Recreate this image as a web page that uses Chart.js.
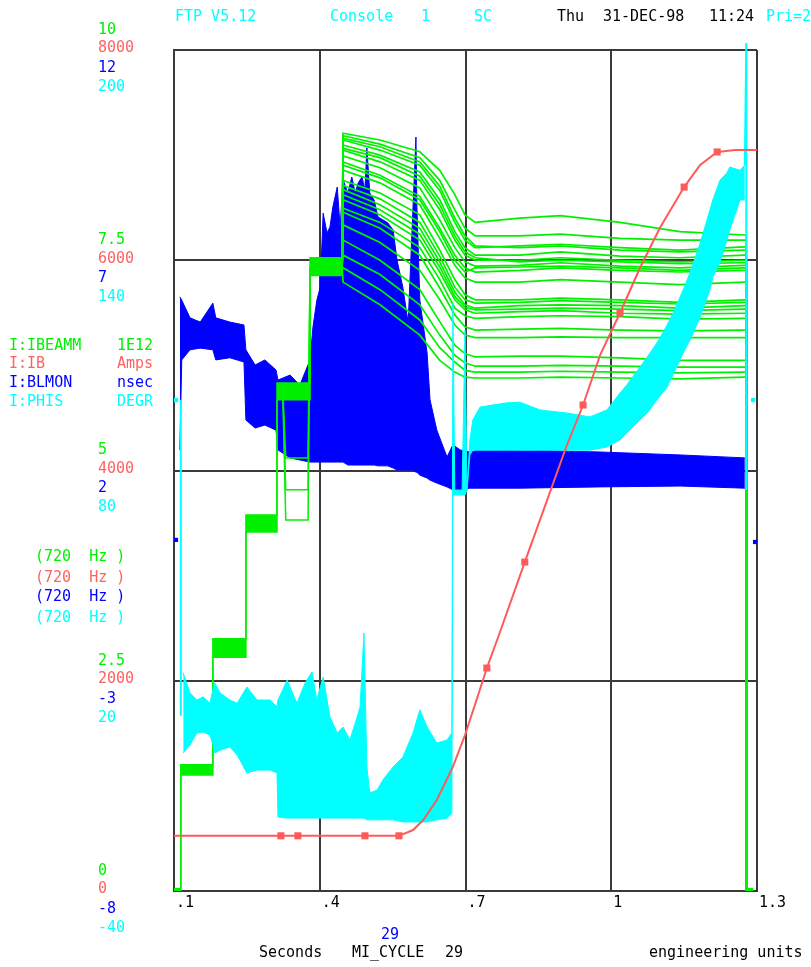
<!DOCTYPE html>
<html>
<head>
<meta charset="utf-8">
<title>MI_CYCLE 29</title>
<script src="https://cdn.jsdelivr.net/npm/chart.js@4.4.1/dist/chart.umd.min.js"></script>
<style>
  html, body { margin: 0; padding: 0; background: #fff; }
  canvas { display: block; }
</style>
</head>
<body>
<canvas id="plot" width="811" height="967"></canvas>
<script>
// time axis (seconds into the cycle)
const xTicks = [0.1, 0.4, 0.7, 1.0, 1.3];
const xTickLabels = ['.1', '.4', '.7', '1', '1.3'];

// the four stacked vertical scales
const greenTicks = [0, 2.5, 5, 7.5, 10];
const redTicks = [0, 2000, 4000, 6000, 8000];
const blueTicks = [-8, -3, 2, 7, 12];
const cyanTicks = [-40, 20, 80, 140, 200];

const seriesNames = ['I:IBEAMM', 'I:IB', 'I:BLMON', 'I:PHIS'];
const seriesUnits = ['1E12', 'Amps', 'nsec', 'DEGR'];

// I:IB - bend current (Amps)
const redTimes = [0.100, 0.320, 0.355, 0.493, 0.563, 0.592, 0.613, 0.641, 0.674, 0.699, 0.724, 0.744, 0.771,
  0.822, 0.868, 0.905, 0.942, 0.977, 1.018, 1.059, 1.100, 1.150, 1.183, 1.218, 1.255, 1.300];
const redAmps = [525, 525, 525, 525, 525, 580, 675, 866, 1180, 1484, 1836, 2121, 2464,
  3129, 3719, 4195, 4623, 5098, 5498, 5926, 6306, 6696, 6906, 7030, 7049, 7049];
const redMarkTimes = [0.320, 0.355, 0.493, 0.563, 0.744, 0.822, 0.942, 1.018, 1.150, 1.218];

// I:IBEAMM - injection steps shared by every cycle (low / high edge of the bundle)
const greenStepTimes = [0.100, 0.114, 0.114, 0.180, 0.180, 0.248, 0.248, 0.312, 0.312, 0.380, 0.380, 0.446];
const greenStepLow = [0, 0, 1.38, 1.38, 2.78, 2.78, 4.27, 4.27, 5.84, 5.84, 7.32, 7.32];
const greenStepHigh = [0, 0, 1.50, 1.50, 3.00, 3.00, 4.47, 4.47, 6.04, 6.04, 7.53, 7.53];
const greenLaunch = 7.42;

// cycles that lost beam during the fourth batch
const greenDipTimes = [0.312, 0.324, 0.330, 0.376, 0.380];
const greenDips = [
  [5.93, 5.93, 5.15, 5.15, 7.42],
  [5.93, 5.93, 4.77, 4.77, 7.42],
  [5.93, 5.93, 4.41, 4.41, 7.42]
];

// individual cycles after the last injection
const greenTraceTimes = [0.448, 0.524, 0.606, 0.647, 0.678, 0.699, 0.720, 0.812, 0.895, 1.018, 1.141, 1.275];
const greenTraces = [
  [9.01, 8.93, 8.79, 8.57, 8.28, 8.04, 7.95, 8.00, 8.03, 7.95, 7.84, 7.80],
  [8.98, 8.88, 8.72, 8.45, 8.10, 7.88, 7.79, 7.79, 7.81, 7.76, 7.74, 7.74],
  [8.95, 8.85, 8.67, 8.38, 8.00, 7.79, 7.67, 7.65, 7.67, 7.62, 7.60, 7.62],
  [8.93, 8.81, 8.63, 8.33, 7.95, 7.74, 7.65, 7.67, 7.69, 7.65, 7.62, 7.66],
  [8.87, 8.75, 8.55, 8.22, 7.84, 7.65, 7.56, 7.56, 7.60, 7.55, 7.53, 7.56],
  [8.83, 8.72, 8.50, 8.16, 7.79, 7.60, 7.53, 7.48, 7.50, 7.48, 7.46, 7.47],
  [8.81, 8.67, 8.45, 8.10, 7.74, 7.56, 7.50, 7.50, 7.53, 7.50, 7.48, 7.50],
  [8.74, 8.60, 8.36, 7.98, 7.65, 7.48, 7.43, 7.44, 7.47, 7.43, 7.41, 7.44],
  [8.67, 8.51, 8.26, 7.88, 7.56, 7.41, 7.36, 7.38, 7.41, 7.38, 7.36, 7.38],
  [8.63, 8.48, 8.22, 7.84, 7.50, 7.36, 7.41, 7.42, 7.43, 7.41, 7.38, 7.41],
  [8.57, 8.42, 8.16, 7.76, 7.44, 7.29, 7.24, 7.24, 7.27, 7.24, 7.21, 7.24],
  [8.45, 8.30, 8.04, 7.62, 7.27, 7.09, 7.03, 7.03, 7.05, 7.03, 7.00, 7.03],
  [8.39, 8.23, 7.95, 7.55, 7.18, 7.03, 6.99, 7.00, 7.02, 7.00, 6.98, 7.00],
  [8.34, 8.16, 7.88, 7.48, 7.12, 6.97, 6.93, 6.96, 6.97, 6.96, 6.93, 6.96],
  [8.28, 8.10, 7.81, 7.42, 7.07, 6.94, 6.91, 6.92, 6.93, 6.92, 6.90, 6.92],
  [8.22, 8.04, 7.74, 7.36, 7.03, 6.91, 6.87, 6.89, 6.90, 6.87, 6.86, 6.87],
  [8.12, 7.95, 7.65, 7.27, 6.93, 6.84, 6.81, 6.83, 6.84, 6.83, 6.80, 6.81],
  [8.07, 7.88, 7.56, 7.17, 6.85, 6.71, 6.67, 6.68, 6.69, 6.67, 6.66, 6.67],
  [7.92, 7.71, 7.38, 7.03, 6.73, 6.61, 6.58, 6.58, 6.59, 6.58, 6.58, 6.58],
  [7.74, 7.50, 7.15, 6.77, 6.49, 6.39, 6.35, 6.36, 6.36, 6.34, 6.31, 6.31],
  [7.56, 7.33, 6.97, 6.61, 6.37, 6.28, 6.24, 6.24, 6.25, 6.24, 6.23, 6.23],
  [7.41, 7.15, 6.79, 6.46, 6.29, 6.19, 6.17, 6.17, 6.18, 6.17, 6.16, 6.17],
  [7.24, 6.97, 6.61, 6.31, 6.17, 6.11, 6.10, 6.10, 6.11, 6.10, 6.09, 6.11]
];
const greenEndTime = 1.278;

// I:BLMON - bunch length envelope (nsec)
const blueTimes = [0.112, 0.116, 0.133, 0.154, 0.180, 0.186, 0.215, 0.244, 0.248, 0.267, 0.287, 0.310, 0.314,
  0.339, 0.359, 0.380, 0.386, 0.394, 0.401, 0.407, 0.415, 0.421, 0.427, 0.436, 0.442, 0.448, 0.458, 0.466,
  0.473, 0.479, 0.487, 0.493, 0.497, 0.503, 0.512, 0.520, 0.530, 0.540, 0.551, 0.559, 0.571, 0.582, 0.592,
  0.598, 0.600, 0.606, 0.621, 0.627, 0.641, 0.662, 0.674, 0.689, 0.709, 0.730, 0.812, 0.977, 1.142, 1.275];
const blueHigh = [6.13, 6.05, 5.63, 5.53, 5.98, 5.63, 5.53, 5.46, 4.87, 4.51, 4.63, 4.39, 4.15,
  4.27, 4.03, 4.63, 5.41, 6.05, 6.36, 8.12, 7.65, 7.79, 8.27, 8.74, 7.79, 8.91, 8.60, 8.98,
  8.60, 8.84, 8.98, 8.67, 9.67, 8.60, 8.43, 8.03, 7.96, 7.89, 7.72, 7.01, 6.36, 5.51, 8.27,
  9.93, 8.27, 6.05, 4.79, 3.68, 2.96, 2.32, 2.61, 2.49, 2.44, 2.49, 2.49, 2.44, 2.37, 2.30];
const blueLow = [2.49, 4.63, 4.87, 4.91, 4.87, 4.63, 4.68, 4.58, 3.20, 3.01, 3.08, 2.96, 2.49,
  2.30, 2.25, 2.20, 2.20, 2.20, 2.20, 2.20, 2.20, 2.20, 2.20, 2.20, 2.20, 2.20, 2.13, 2.13,
  2.13, 2.13, 2.13, 2.13, 2.13, 2.13, 2.13, 2.11, 2.11, 2.11, 2.06, 2.01, 2.01, 2.01, 2.01,
  1.96, 1.96, 1.89, 1.82, 1.77, 1.70, 1.61, 1.54, 1.54, 1.58, 1.58, 1.58, 1.61, 1.63, 1.58];
const blueTailTimes = [1.278, 1.278];
const blueTail = [2.30, 0.0];

// I:PHIS - RF phase envelope (degrees)
const cyanTimes = [0.119, 0.133, 0.147, 0.160, 0.174, 0.180, 0.184, 0.195, 0.215, 0.230, 0.250, 0.271, 0.298,
  0.312, 0.314, 0.333, 0.353, 0.370, 0.384, 0.394, 0.407, 0.421, 0.436, 0.448, 0.462, 0.477, 0.483, 0.491,
  0.497, 0.503, 0.518, 0.530, 0.551, 0.571, 0.592, 0.606, 0.621, 0.641, 0.662, 0.672,
  0.674, 0.678, 0.693, 0.699, 0.703, 0.709,
  0.715, 0.730, 0.785, 0.812, 0.853, 0.909, 0.956, 0.991, 1.018, 1.032, 1.059, 1.074, 1.094, 1.115,
  1.127, 1.148, 1.162, 1.183, 1.203, 1.209, 1.224, 1.238, 1.244, 1.265, 1.275];
const cyanHigh = [22.2, 16.5, 14.5, 15.4, 13.6, 17.4, 19.4, 16.5, 14.5, 13.6, 18.2, 14.5, 14.5,
  12.5, 14.5, 20.2, 13.6, 19.4, 22.5, 14.5, 21.1, 9.7, 5.1, 6.8, 3.1, 9.7, 12.5, 33.6,
  -4.6, -12.0, -11.2, -8.3, -4.6, -1.8, 5.1, 11.7, 6.8, 2.2, 3.1, 5.1,
  127.8, 74.4, 74.4, 120.1, 74.4, 88.7,
  94.4, 98.1, 99.3, 99.5, 97.3, 96.4, 95.3, 97.3, 102.1, 104.4, 109.5, 112.4, 116.4, 121.5,
  124.9, 131.5, 136.4, 144.9, 154.3, 157.2, 162.9, 164.9, 166.6, 165.7, 167.2];
const cyanLow = [-0.6, 1.7, 5.1, 5.4, 4.5, 1.7, -0.6, 0.2, 1.1, -1.2, -6.3, -5.5, -5.5,
  -6.3, -18.9, -19.2, -19.2, -19.2, -19.2, -19.2, -19.2, -19.2, -19.2, -19.2, -19.2, -19.2, -19.2, -19.2,
  -19.7, -19.7, -19.7, -19.7, -19.7, -20.3, -20.3, -20.3, -20.3, -19.7, -19.2, -17.7,
  73.0, 73.0, 73.0, 73.0, 74.4, 84.4,
  85.8, 85.8, 85.8, 85.8, 85.8, 85.8, 85.8, 86.7, 88.7, 90.7, 94.4, 96.4, 100.1, 103.8,
  107.3, 113.5, 117.2, 123.8, 131.5, 135.2, 139.5, 145.8, 148.6, 157.2, 157.2];
const cyanLeadTimes = [0.114, 0.114];
const cyanLead = [100.1, 10.0];
const cyanTailTimes = [1.275, 1.278, 1.278];
const cyanTail = [167.2, 202, 74.4];

// end-of-trace markers
const greenMarkTimes = [0.106, 1.286];
const greenMarks = [0, 0];
const cyanMarkTimes = [0.104, 1.292];
const cyanMarks = [100.1, 100.1];
const blueMarkTimes = [0.104, 1.296];
const blueMarks = [0.35, 0.3];

const GREEN = '#00f000';
const RED = '#ff5a5a';
const RED_TEXT = '#ff6262';
const BLUE = '#0000ff';
const CYAN = '#00ffff';
const INK = '#000000';
const GRID = '#3a3a3a';
const FONT = '15px "DejaVu Sans Mono", "Liberation Mono", monospace';

const pts = (ts, vs) => ts.map((t, i) => ({ x: t, y: vs[i] }));

function line(data, color, axis, order, extra) {
  return Object.assign({
    data, borderColor: color, backgroundColor: color, yAxisID: axis,
    borderWidth: 1.5, pointRadius: 0, fill: false, order
  }, extra || {});
}

const datasets = [];

// beam-loss monitor band (drawn underneath)
datasets.push(line(pts(blueTimes, blueLow), BLUE, 'yB', 3, { borderWidth: 1 }));
datasets.push(line(pts(blueTimes, blueHigh), BLUE, 'yB', 3, { borderWidth: 1, fill: '-1' }));
datasets.push(line(pts(blueTailTimes, blueTail), BLUE, 'yB', 3, { borderWidth: 2 }));
datasets.push(line(pts(blueMarkTimes, blueMarks), BLUE, 'yB', 3,
  { showLine: false, pointRadius: 3, pointStyle: 'rect', pointBorderWidth: 0 }));

// intensity bundle
datasets.push(line(pts(greenStepTimes, greenStepLow), GREEN, 'yG', 2));
datasets.push(line(pts(greenStepTimes, greenStepHigh), GREEN, 'yG', 2, { fill: '-1' }));
greenDips.forEach(d => datasets.push(line(pts(greenDipTimes, d), GREEN, 'yG', 2)));
greenTraces.forEach(tr => {
  const data = [{ x: greenStepTimes[greenStepTimes.length - 1], y: greenLaunch }]
    .concat(pts(greenTraceTimes, tr))
    .concat([{ x: greenEndTime, y: tr[tr.length - 1] }, { x: greenEndTime, y: 0 }]);
  datasets.push(line(data, GREEN, 'yG', 2, { borderWidth: 1.7 }));
});
datasets.push(line(pts(greenMarkTimes, greenMarks), GREEN, 'yG', 2,
  { showLine: false, pointRadius: 4.5, pointStyle: 'rect', pointBorderWidth: 0 }));

// phase band
datasets.push(line(pts(cyanTimes, cyanLow), CYAN, 'yC', 1, { borderWidth: 1 }));
datasets.push(line(pts(cyanTimes, cyanHigh), CYAN, 'yC', 1, { borderWidth: 1, fill: '-1' }));
datasets.push(line(pts(cyanLeadTimes, cyanLead), CYAN, 'yC', 1, { borderWidth: 2 }));
datasets.push(line(pts(cyanTailTimes, cyanTail), CYAN, 'yC', 1, { borderWidth: 2, clip: false }));
datasets.push(line(pts(cyanMarkTimes, cyanMarks), CYAN, 'yC', 1,
  { showLine: false, pointRadius: 3, pointStyle: 'rect', pointBorderWidth: 0 }));

// bend current ramp on top
datasets.push(line(pts(redTimes, redAmps), RED, 'yR', 0, {
  borderWidth: 2,
  pointStyle: 'rect',
  pointBorderWidth: 0,
  pointRadius: c => (c.raw && redMarkTimes.includes(c.raw.x)) ? 5 : 0
}));

// all the screen lettering around the plot frame
const screenText = {
  id: 'screenText',
  afterDraw(chart) {
    const c = chart.ctx;
    const put = (s, x, y, col) => { c.fillStyle = col; c.fillText(s, x, y); };
    c.save();
    c.font = FONT;
    c.textAlign = 'left';
    c.textBaseline = 'middle';

    put('FTP V5.12', 175, 17, CYAN);
    put('Console', 330, 17, CYAN);
    put('1', 421, 17, CYAN);
    put('SC', 474, 17, CYAN);
    put('Thu', 557, 17, INK);
    put('31-DEC-98', 603, 17, INK);
    put('11:24', 709, 17, INK);
    put('Pri=2', 766, 17, CYAN);

    const rows = [
      { id: 'yG', ticks: greenTicks, color: GREEN, dy: -20 },
      { id: 'yR', ticks: redTicks, color: RED_TEXT, dy: -1.5 },
      { id: 'yB', ticks: blueTicks, color: BLUE, dy: 18 },
      { id: 'yC', ticks: cyanTicks, color: CYAN, dy: 37 }
    ];
    rows.forEach(r => {
      const sc = chart.scales[r.id];
      r.ticks.forEach(v => put(String(v), 98, sc.getPixelForValue(v) + r.dy, r.color));
    });

    const colors = [GREEN, RED_TEXT, BLUE, CYAN];
    const nameY = [346, 364.5, 383, 402];
    const hzY = [557.5, 578, 597.5, 618];
    seriesNames.forEach((n, i) => {
      put(n, 9, nameY[i], colors[i]);
      put(seriesUnits[i], 117, nameY[i], colors[i]);
      put('(720  Hz )', 35, hzY[i], colors[i]);
    });

    const xs = chart.scales.x;
    xTicks.forEach((v, i) => put(xTickLabels[i], xs.getPixelForValue(v) + 2, 903, INK));

    put('29', 381, 935, BLUE);
    put('Seconds', 259, 953, INK);
    put('MI_CYCLE', 352, 953, INK);
    put('29', 445, 953, INK);
    put('engineering units', 649, 953, INK);
    c.restore();
  }
};

const gridOpts = { color: GRID, lineWidth: 2, drawTicks: false };
const borderOpts = { color: GRID, width: 2 };

new Chart(document.getElementById('plot').getContext('2d'), {
  type: 'line',
  data: { datasets },
  options: {
    responsive: false,
    animation: false,
    events: [],
    layout: { padding: { left: 174, right: 54, top: 50, bottom: 76 } },
    plugins: { legend: { display: false }, tooltip: { enabled: false } },
    scales: {
      x: {
        type: 'linear', min: 0.1, max: 1.3,
        afterBuildTicks: s => { s.ticks = xTicks.map(v => ({ value: v })); },
        ticks: { display: false }, grid: gridOpts, border: borderOpts
      },
      yG: {
        position: 'left', min: 0, max: 10,
        afterBuildTicks: s => { s.ticks = greenTicks.map(v => ({ value: v })); },
        ticks: { display: false }, grid: gridOpts, border: borderOpts
      },
      yR: { display: false, min: 0, max: 8000 },
      yB: { display: false, min: -8, max: 12 },
      yC: { display: false, min: -40, max: 200 }
    }
  },
  plugins: [screenText]
});
</script>
</body>
</html>
